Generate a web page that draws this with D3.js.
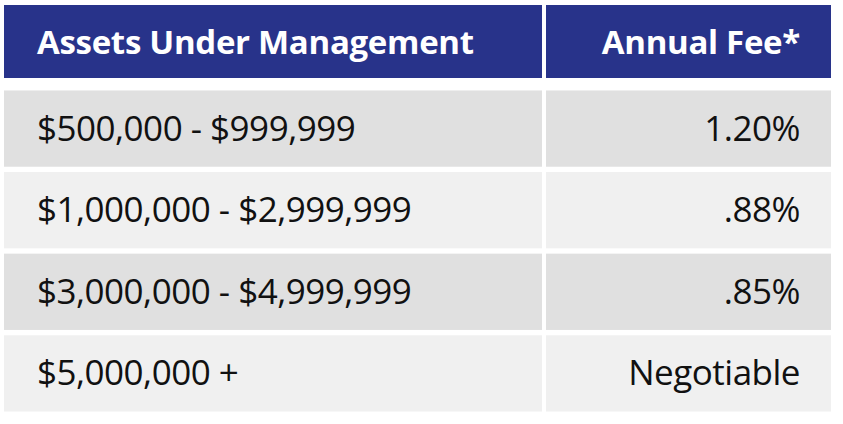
<!DOCTYPE html><html><head><meta charset="utf-8"><script src="https://cdn.jsdelivr.net/npm/d3@7"></script>
<style>body{margin:0;background:#fff}text{font-family:"Open Sans",sans-serif}</style></head><body><svg id="c" width="843" height="424"></svg>
<script>
const headers = ["Assets Under Management", "Annual Fee*"];
const ranges = ["$500,000 - $999,999", "$1,000,000 - $2,999,999", "$3,000,000 - $4,999,999", "$5,000,000 +"];
const fees = ["1.20%", ".88%", ".85%", "Negotiable"];
const rowColors = ["#e0e0e0", "#f0f0f0"];
const svg = d3.select("#c");
const x = d3.scaleOrdinal().domain([0,1]).range([4,546]);
const w = [538, 285];
const y = d3.scaleBand().domain(d3.range(ranges.length)).range([88,414]).paddingInner(0.065).paddingOuter(0.03);
headers.forEach((h,i)=>{
  svg.append("rect").attr("x",x(i)).attr("y",5).attr("width",w[i]).attr("height",73).attr("fill","#28338a");
  svg.append("text").attr("x", i==0?37:800).attr("y",54).attr("text-anchor",i==0?"start":"end")
    .attr("fill","#fff").attr("font-weight","bold").attr("font-size",33).attr("letter-spacing",-0.3).text(h);
});
ranges.forEach((r,j)=>{
  [r, fees[j]].forEach((t,i)=>{
    svg.append("rect").attr("x",x(i)).attr("y",y(j)).attr("width",w[i]).attr("height",y.bandwidth()).attr("fill",rowColors[j%2]);
    svg.append("text").attr("x", i==0?37:800).attr("y",y(j)+y.bandwidth()/2+12).attr("text-anchor",i==0?"start":"end")
      .attr("fill","#111").attr("font-size",35).attr("letter-spacing",-0.5).text(t);
  });
});
</script></body></html>
